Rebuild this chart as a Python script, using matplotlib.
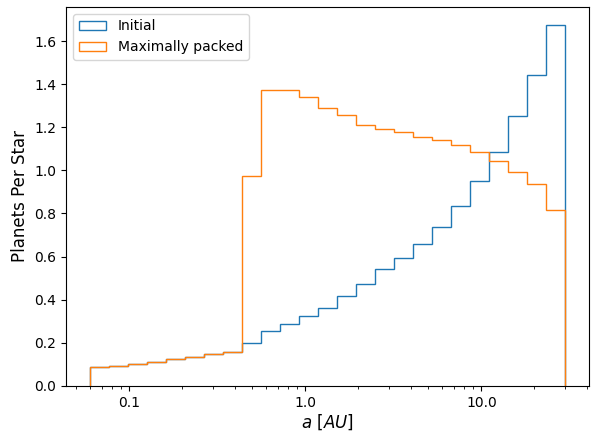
import numpy as np
import matplotlib
matplotlib.use("Agg")
import matplotlib.pyplot as plt

# semi-major axis bins (AU), log spaced
bin_edges = np.logspace(np.log10(0.06), np.log10(30), 26)

initial = [0.088, 0.093, 0.100, 0.110, 0.123, 0.135, 0.146, 0.156,
           0.199, 0.256, 0.287, 0.325, 0.362, 0.418, 0.472, 0.544,
           0.595, 0.658, 0.738, 0.834, 0.951, 1.084, 1.252, 1.441, 1.675]
packed = [0.088, 0.093, 0.100, 0.110, 0.123, 0.135, 0.146, 0.156,
          0.973, 1.373, 1.373, 1.340, 1.290, 1.256, 1.210, 1.193,
          1.178, 1.155, 1.142, 1.119, 1.084, 1.044, 0.991, 0.936, 0.814]

centers = np.sqrt(bin_edges[:-1] * bin_edges[1:])

fig, ax = plt.subplots(figsize=(5.91, 4.33), dpi=100)
plt.subplots_adjust(left=0.112, right=0.997, bottom=0.109, top=0.984)

ax.hist(centers, bins=bin_edges, weights=initial, histtype='step', label='Initial')
ax.hist(centers, bins=bin_edges, weights=packed, histtype='step', label='Maximally packed')

ax.set_xscale('log')
ax.set_xticks([0.1, 1, 10], ['0.1', '1.0', '10.0'])
ax.set_xlabel(r'$a\ [AU]$', fontsize=12, labelpad=2)
ax.set_ylabel('Planets Per Star', fontsize=12)
ax.legend(loc='upper left')

plt.savefig('out.png')
